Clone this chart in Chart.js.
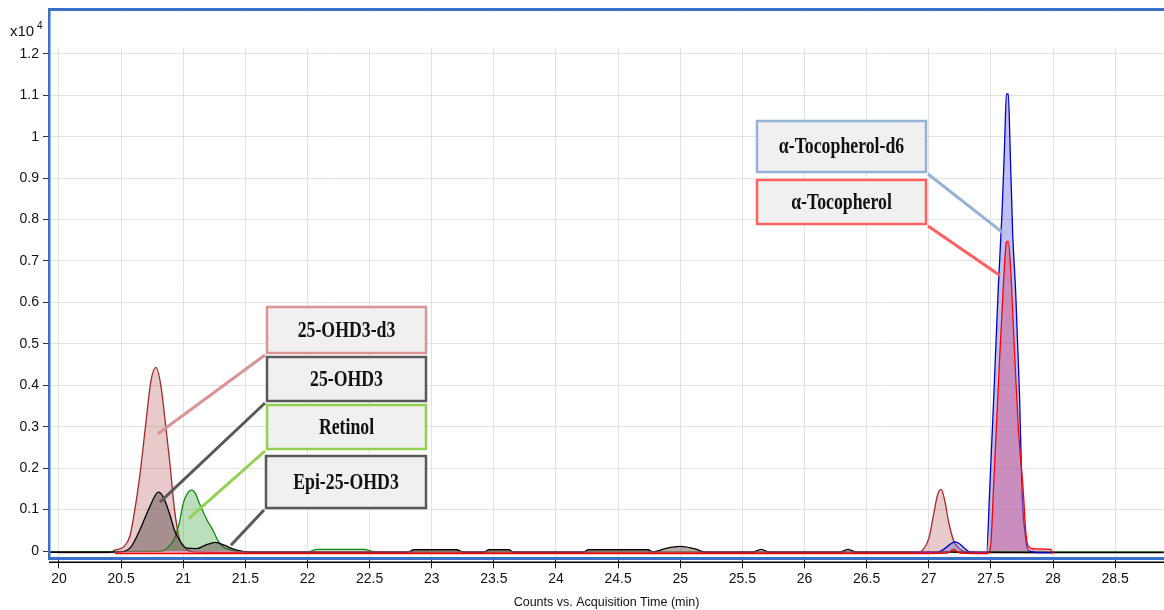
<!DOCTYPE html>
<html>
<head>
<meta charset="utf-8">
<script src="https://cdn.jsdelivr.net/npm/chart.js@4.4.1/dist/chart.umd.min.js"></script>
<style>
  html, body { margin: 0; padding: 0; background: #fff; }
  canvas { display: block; }
</style>
</head>
<body>
<canvas id="chrom" width="1164" height="610"></canvas>
<script>
// tick values / labels
const xTicks = [20, 20.5, 21, 21.5, 22, 22.5, 23, 23.5, 24, 24.5, 25, 25.5, 26, 26.5, 27, 27.5, 28, 28.5];
const xTickLabels = ['20', '20.5', '21', '21.5', '22', '22.5', '23', '23.5', '24', '24.5', '25', '25.5', '26', '26.5', '27', '27.5', '28', '28.5'];
const yTicks = [0, 0.1, 0.2, 0.3, 0.4, 0.5, 0.6, 0.7, 0.8, 0.9, 1, 1.1, 1.2];
const yTickLabels = ['0', '0.1', '0.2', '0.3', '0.4', '0.5', '0.6', '0.7', '0.8', '0.9', '1', '1.1', '1.2'];

// 25-OHD3-d3 trace (x10^4 counts)
const d3Time = [20.0, 20.40, 20.45, 20.52, 20.57, 20.60, 20.65, 20.70, 20.74, 20.78, 20.82, 20.86, 20.89, 20.93, 20.97, 21.02, 21.08, 21.5, 26.9, 26.95, 27.00, 27.04, 27.07, 27.10, 27.13, 27.16, 27.20, 27.25, 27.30, 27.45, 28.0];
const d3Counts = [-0.004, -0.004, 0.002, 0.01, 0.035, 0.08, 0.18, 0.31, 0.41, 0.443, 0.40, 0.30, 0.22, 0.10, 0.03, 0.006, -0.002, -0.004, -0.004, 0.002, 0.03, 0.09, 0.135, 0.149, 0.12, 0.07, 0.025, 0.005, -0.002, -0.004, -0.004];

// 25-OHD3 / Epi-25-OHD3 trace
const ohd3Time = [19.93, 20.3, 20.5, 20.58, 20.65, 20.73, 20.80, 20.84, 20.89, 20.93, 20.97, 21.03, 21.11, 21.18, 21.26, 21.33, 21.43, 21.55, 22.8, 22.86, 23.2, 23.26, 23.42, 23.46, 23.62, 23.66, 24.22, 24.26, 24.74, 24.78, 24.88, 25.0, 25.12, 25.2, 25.58, 25.65, 25.72, 26.28, 26.35, 26.42, 26.9, 27.0, 27.3, 28.0, 28.89];
const ohd3Counts = [-0.003, -0.003, -0.002, 0.01, 0.05, 0.106, 0.142, 0.13, 0.09, 0.05, 0.026, 0.007, 0.006, 0.014, 0.021, 0.014, 0.002, -0.003, -0.003, 0.003, 0.003, -0.003, -0.003, 0.003, 0.003, -0.003, -0.003, 0.003, 0.003, -0.002, 0.006, 0.011, 0.005, -0.003, -0.003, 0.004, -0.003, -0.003, 0.004, -0.003, -0.003, -0.002, -0.003, -0.004, -0.004];

// Retinol trace
const retinolTime = [19.93, 20.82, 20.88, 20.93, 20.97, 21.00, 21.04, 21.07, 21.10, 21.13, 21.16, 21.20, 21.24, 21.28, 21.32, 21.38, 21.45, 22.0, 22.08, 22.45, 22.55, 28.89];
const retinolCounts = [-0.002, -0.001, 0.01, 0.03, 0.07, 0.115, 0.142, 0.147, 0.138, 0.115, 0.095, 0.07, 0.05, 0.025, 0.01, 0.003, -0.002, -0.002, 0.004, 0.004, -0.002, -0.002];

// alpha-Tocopherol-d6 trace
const tocD6Time = [26.9, 27.05, 27.12, 27.17, 27.21, 27.25, 27.29, 27.33, 27.465, 27.49, 27.52, 27.56, 27.59, 27.61, 27.625, 27.64, 27.655, 27.675, 27.70, 27.73, 27.75, 27.78, 27.80, 27.9, 28.0];
const tocD6Counts = [-0.004, -0.004, 0.004, 0.016, 0.022, 0.017, 0.006, -0.002, -0.004, 0.146, 0.35, 0.64, 0.82, 0.98, 1.103, 1.103, 0.97, 0.77, 0.62, 0.38, 0.146, 0.03, 0.002, -0.004, -0.004];

// alpha-Tocopherol trace
const tocTime = [20.45, 26.9, 27.15, 27.2, 27.25, 27.47, 27.50, 27.52, 27.56, 27.60, 27.625, 27.64, 27.66, 27.69, 27.72, 27.76, 27.78, 27.80, 27.85, 27.98, 28.0];
const tocCounts = [-0.006, -0.006, -0.005, 0.004, -0.005, -0.006, 0.02, 0.146, 0.40, 0.64, 0.745, 0.748, 0.674, 0.48, 0.30, 0.146, 0.05, 0.012, 0.005, 0.004, -0.006];

const pts = (xs, ys) => xs.map((x, i) => ({ x: x, y: ys[i] }));

const axisFont = '"Liberation Sans", Arial, sans-serif';
const blue = '#3b70c8';

// callout boxes, leaders point at a data position
const callouts = [
  { text: '25-OHD3-d3', box: [267, 307, 426, 353], border: '#d99494', corner: 'left', at: [20.797, 0.283] },
  { text: '25-OHD3', box: [267, 357, 426, 401], border: '#595959', corner: 'left', at: [20.813, 0.118] },
  { text: 'Retinol', box: [267, 405, 426, 449], border: '#92d050', corner: 'left', at: [21.046, 0.079] },
  { text: 'Epi-25-OHD3', box: [266, 456, 426, 508], border: '#595959', corner: 'left', at: [21.384, 0.014] },
  { text: 'α-Tocopherol-d6', box: [757, 121, 926, 172], border: '#95b3d7', corner: 'right', at: [27.598, 0.768] },
  { text: 'α-Tocopherol', box: [757, 180, 926, 224], border: '#ff6060', corner: 'right', at: [27.573, 0.665] }
];

const decor = {
  id: 'decor',
  beforeDatasetsDraw(chart) {
    // grid stops a little above 1.2
    const { ctx, chartArea } = chart;
    ctx.save();
    ctx.fillStyle = '#fff';
    ctx.fillRect(chartArea.left, chartArea.top, chartArea.right - chartArea.left, 47.5 - chartArea.top);
    ctx.restore();
  },
  afterDraw(chart) {
    const { ctx, chartArea } = chart;
    const xs = chart.scales.x, ys = chart.scales.y;
    ctx.save();

    // frame
    ctx.fillStyle = blue;
    ctx.fillRect(chartArea.left, 8, chartArea.right - chartArea.left, 3);
    ctx.fillRect(48, 8, 2.5, 552);
    ctx.fillRect(chartArea.left, 557, chartArea.right - chartArea.left, 3);
    ctx.fillStyle = '#000';
    ctx.fillRect(chartArea.left, 561.5, chartArea.right - chartArea.left, 1.5);

    // exponent label
    ctx.fillStyle = '#111';
    ctx.textBaseline = 'alphabetic';
    ctx.textAlign = 'left';
    ctx.font = '15px ' + axisFont;
    ctx.fillText('x10', 10, 36);
    ctx.font = '10px ' + axisFont;
    ctx.fillText('4', 37, 29);

    // callouts
    callouts.forEach(c => {
      const [x1, y1, x2, y2] = c.box;
      const sx = c.corner === 'left' ? x1 - 2 : x2 + 2;
      const sy = y2 + 2;
      ctx.strokeStyle = c.border;
      ctx.lineWidth = 3;
      ctx.beginPath();
      ctx.moveTo(sx, sy);
      ctx.lineTo(xs.getPixelForValue(c.at[0]), ys.getPixelForValue(c.at[1]));
      ctx.stroke();

      ctx.fillStyle = '#f0f0f0';
      ctx.fillRect(x1, y1, x2 - x1, y2 - y1);
      ctx.lineWidth = 2.5;
      ctx.strokeRect(x1, y1, x2 - x1, y2 - y1);

      // text is a bit taller than wide in the original
      ctx.save();
      ctx.translate((x1 + x2) / 2, (y1 + y2) / 2 + 1);
      ctx.scale(0.96, 1.2);
      ctx.fillStyle = '#111';
      ctx.font = 'bold 18.5px "Liberation Serif", "Times New Roman", serif';
      ctx.textAlign = 'center';
      ctx.textBaseline = 'middle';
      ctx.fillText(c.text, 0, 0);
      ctx.restore();
    });
    ctx.restore();
  }
};

const line = (label, xs, ys, stroke, fillCol, order) => ({
  label: label,
  data: pts(xs, ys),
  borderColor: stroke,
  backgroundColor: fillCol,
  borderWidth: 1.3,
  fill: 'origin',
  pointRadius: 0,
  cubicInterpolationMode: 'monotone',
  order: order
});

new Chart(document.getElementById('chrom'), {
  type: 'line',
  data: {
    datasets: [
      line('25-OHD3-d3', d3Time, d3Counts, '#a3282b', 'rgba(180,80,80,0.3)', 5),
      line('Retinol', retinolTime, retinolCounts, '#128a12', 'rgba(60,160,60,0.35)', 4),
      line('25-OHD3', ohd3Time, ohd3Counts, '#000000', 'rgba(90,70,70,0.45)', 3),
      line('α-Tocopherol-d6', tocD6Time, tocD6Counts, '#0000cc', 'rgba(100,100,220,0.4)', 2),
      line('α-Tocopherol', tocTime, tocCounts, '#ff0000', 'rgba(210,90,140,0.5)', 1)
    ]
  },
  options: {
    responsive: false,
    animation: false,
    layout: { padding: { top: 9.3, right: 0, left: 0, bottom: 0 } },
    plugins: { legend: { display: false }, tooltip: { enabled: false } },
    scales: {
      x: {
        type: 'linear',
        min: 19.92,
        max: 28.893,
        afterBuildTicks: s => { s.ticks = xTicks.map(v => ({ value: v })); },
        afterFit: s => { s.height = 50.7; },
        grid: { color: '#e2e2e2', lineWidth: 1, tickLength: 9, tickColor: '#222' },
        border: { display: false },
        ticks: {
          autoSkip: false, maxRotation: 0, padding: 2, color: '#111',
          font: { family: axisFont, size: 14 },
          callback: (v, i) => xTickLabels[i]
        },
        title: {
          display: true, text: 'Counts vs. Acquisition Time (min)', color: '#111',
          font: { family: axisFont, size: 12.5 }, padding: { top: 0, bottom: 0 }
        }
      },
      y: {
        min: -0.02,
        max: 1.3,
        afterBuildTicks: s => { s.ticks = yTicks.map(v => ({ value: v })); },
        afterFit: s => { s.width = 49; },
        grid: { color: '#e2e2e2', lineWidth: 1, tickLength: 6, tickColor: '#333' },
        border: { display: true, color: '#999' },
        ticks: {
          autoSkip: false, padding: 4, color: '#111',
          font: { family: axisFont, size: 14 },
          callback: (v, i) => yTickLabels[i]
        }
      }
    }
  },
  plugins: [decor]
});
</script>
</body>
</html>
